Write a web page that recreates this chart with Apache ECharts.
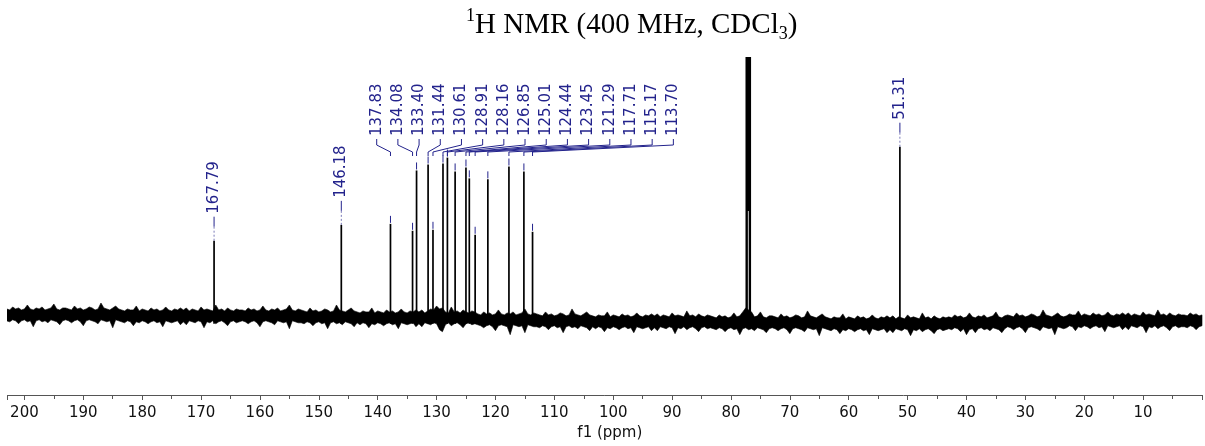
<!DOCTYPE html>
<html>
<head>
<meta charset="utf-8">
<title>NMR spectrum</title>
<script src="https://cdn.jsdelivr.net/npm/echarts@6/dist/echarts.min.js"></script>
<style>
  html, body { margin: 0; padding: 0; background: #fff; }
  #main { width: 1205px; height: 446px; }
</style>
</head>
<body>
<div id="main"></div>
<script>
// picked peaks (ppm) and their heights (arbitrary intensity, baseline sits near 75)
const peakPpm = [167.79, 146.18, 137.83, 134.08, 133.40, 131.44, 130.61, 128.91, 128.16,
  126.85, 125.01, 124.44, 123.45, 121.29, 117.71, 115.17, 113.70, 51.31];
const peakHeight = [156, 172, 173, 166, 227, 233, 167, 234, 240,
  226, 230, 219, 162, 218, 231, 226, 165, 251];

// CDCl3 solvent lines, they run off the top of the plot
const solventPpm = [77.33, 76.79];
const solventHeight = [900, 900];
const solventValley = 186; // where the two lines merge

// noise envelope, one pair every 0.5 ppm from 203 down to 0
const noiseUpper = [
  87, 86, 89, 87, 88, 86, 87, 91, 87, 86, 88, 87, 89, 86, 87, 88, 92, 87, 86, 88,
  88, 87, 86, 90, 87, 88, 86, 87, 89, 88, 86, 87, 93, 88, 87, 86, 88, 90, 87, 86,
  85, 87, 86, 86, 90, 85, 87, 86, 85, 88, 86, 87, 85, 86, 89, 86, 85, 87, 86, 88,
  86, 88, 85, 87, 86, 85, 89, 86, 87, 86, 85, 91, 86, 87, 85, 88, 86, 85, 87, 86,
  86, 85, 88, 86, 87, 85, 86, 90, 86, 85, 87, 86, 88, 85, 86, 87, 91, 86, 85, 87,
  86, 85, 84, 88, 85, 86, 84, 85, 87, 86, 84, 85, 91, 86, 85, 84, 86, 88, 85, 84,
  83, 85, 84, 84, 88, 83, 85, 84, 83, 86, 84, 85, 83, 84, 87, 84, 83, 85, 84, 86,
  84, 86, 83, 85, 87, 86, 90, 87, 88, 84, 83, 89, 84, 85, 83, 86, 84, 83, 85, 84,
  82, 81, 84, 82, 83, 81, 82, 86, 82, 81, 83, 82, 84, 81, 82, 83, 87, 82, 81, 83,
  82, 81, 80, 84, 81, 82, 80, 81, 83, 82, 80, 81, 87, 82, 81, 80, 82, 84, 81, 80,
  79, 81, 80, 80, 84, 79, 81, 80, 79, 82, 80, 81, 79, 80, 83, 80, 79, 81, 80, 82,
  80, 82, 79, 81, 80, 79, 83, 80, 81, 80, 79, 85, 80, 81, 79, 82, 80, 79, 81, 80,
  79, 78, 81, 79, 80, 78, 79, 83, 79, 80, 84, 88, 86, 84, 79, 80, 84, 79, 78, 80,
  80, 79, 78, 82, 79, 80, 78, 79, 81, 80, 78, 79, 85, 80, 79, 78, 80, 82, 79, 78,
  77, 79, 78, 78, 82, 77, 79, 78, 77, 80, 78, 79, 77, 78, 81, 78, 77, 79, 78, 80,
  78, 80, 77, 79, 78, 77, 81, 78, 79, 78, 77, 83, 78, 79, 77, 80, 78, 77, 79, 78,
  79, 78, 81, 79, 80, 78, 79, 83, 79, 78, 80, 79, 81, 78, 79, 80, 84, 79, 78, 80,
  81, 80, 79, 83, 80, 81, 79, 80, 82, 81, 79, 80, 86, 81, 80, 79, 81, 83, 80, 79,
  80, 82, 81, 81, 85, 80, 82, 81, 80, 83, 81, 82, 80, 81, 84, 81, 80, 82, 81, 83,
  81, 83, 80, 82, 81, 80, 84, 81, 82, 81, 80, 86, 81, 82, 80, 83, 81, 80, 82, 81,
  81, 80, 83, 81, 82, 80, 81
];
const noiseLower = [
  75, 74, 76, 75, 72, 75, 76, 74, 75, 69, 75, 76, 74, 75, 73, 76, 75, 74, 71, 75,
  76, 75, 73, 75, 76, 74, 70, 75, 76, 75, 74, 72, 76, 75, 74, 75, 68, 76, 75, 74,
  73, 75, 74, 70, 74, 73, 75, 74, 72, 74, 75, 73, 74, 69, 75, 74, 73, 74, 75, 71,
  74, 71, 75, 74, 73, 75, 74, 68, 74, 73, 75, 72, 74, 75, 73, 70, 74, 75, 73, 74,
  75, 74, 72, 74, 75, 73, 69, 74, 75, 74, 73, 71, 75, 74, 73, 74, 67, 75, 74, 73,
  73, 72, 74, 73, 70, 73, 74, 72, 73, 67, 73, 74, 72, 73, 71, 74, 73, 72, 69, 73,
  71, 73, 72, 68, 72, 71, 73, 72, 70, 72, 73, 71, 72, 67, 73, 72, 71, 72, 73, 69,
  72, 69, 73, 72, 71, 73, 72, 66, 64, 71, 73, 70, 72, 73, 71, 68, 72, 73, 71, 72,
  71, 70, 68, 70, 71, 69, 65, 70, 71, 70, 69, 61, 71, 70, 69, 70, 63, 71, 70, 69,
  69, 68, 70, 69, 66, 69, 70, 68, 69, 63, 69, 70, 68, 69, 67, 70, 69, 68, 65, 69,
  67, 69, 68, 64, 68, 67, 69, 68, 66, 68, 69, 67, 68, 63, 69, 68, 67, 68, 69, 65,
  68, 65, 69, 68, 67, 69, 68, 62, 68, 67, 69, 66, 68, 69, 67, 64, 68, 69, 67, 68,
  67, 66, 68, 67, 64, 67, 68, 66, 67, 61, 67, 68, 66, 67, 65, 68, 67, 66, 63, 67,
  68, 67, 65, 67, 68, 66, 62, 67, 68, 67, 66, 64, 68, 67, 66, 67, 60, 68, 67, 66,
  65, 67, 66, 62, 66, 65, 67, 66, 64, 66, 67, 65, 66, 61, 67, 66, 65, 66, 67, 63,
  66, 63, 67, 66, 65, 67, 66, 60, 66, 65, 67, 64, 66, 67, 65, 62, 66, 67, 65, 66,
  67, 66, 68, 67, 64, 67, 61, 66, 67, 63, 67, 68, 66, 67, 65, 68, 67, 66, 63, 67,
  69, 68, 66, 68, 69, 67, 63, 68, 69, 68, 67, 65, 69, 68, 67, 68, 61, 69, 68, 67,
  68, 70, 69, 65, 69, 68, 70, 69, 67, 69, 70, 68, 69, 64, 70, 69, 68, 69, 70, 66,
  69, 66, 70, 69, 68, 70, 69, 63, 69, 68, 70, 67, 69, 70, 68, 65, 69, 70, 68, 69,
  69, 68, 70, 69, 66, 69, 70
];

const LABEL_BLUE = '#23238c';
const FONT = 'DejaVu Sans';

const chart = echarts.init(document.getElementById('main'));

const noiseData = noiseUpper.map((u, i) => [203 - i * 0.5, u, noiseLower[i]]);
const peakData = peakPpm.map((p, i) => [p, peakHeight[i]]);
const solventData = solventPpm.map((p, i) => [p, solventHeight[i]]);

// the crowded aromatic peaks get labels spread out side by side
let slot = 0;
const labelData = peakPpm.map((p, i) => {
  const inGroup = p > 113 && p < 138;
  return [p, peakHeight[i], inGroup ? slot++ : -1];
});

function renderNoise(params, api) {
  if (params.dataIndexInside !== 0) return null;
  const n = noiseData.length;
  const pts = [];
  for (let j = 0; j < n; j++) pts.push(api.coord([api.value(0, j), api.value(1, j)]));
  for (let j = n - 1; j >= 0; j--) pts.push(api.coord([api.value(0, j), api.value(2, j)]));
  return {
    type: 'polygon',
    shape: { points: pts },
    style: { fill: '#000', stroke: '#000', lineWidth: 0.6 }
  };
}

function renderPeak(params, api) {
  const p = api.value(0);
  const a = api.coord([p, 72]);
  const b = api.coord([p, api.value(1)]);
  return {
    type: 'line',
    shape: { x1: a[0], y1: a[1], x2: b[0], y2: b[1] },
    style: { stroke: '#000', lineWidth: 1.7 }
  };
}

function renderSolvent(params, api) {
  const p = api.value(0);
  const a = api.coord([p, 74]);
  const b = api.coord([p, api.value(1)]);
  const children = [{
    type: 'line',
    shape: { x1: a[0], y1: a[1], x2: b[0], y2: b[1] },
    style: { stroke: '#000', lineWidth: 2.4 }
  }];
  if (params.dataIndexInside === 0) {
    // fill between the two lines above the valley
    const l = api.coord([solventPpm[0], solventValley]);
    const r = api.coord([solventPpm[1], solventHeight[1]]);
    children.push({
      type: 'rect',
      shape: { x: l[0], y: r[1], width: r[0] - l[0], height: l[1] - r[1] },
      style: { fill: '#000' }
    });
  }
  return { type: 'group', children };
}

function renderLabel(params, api) {
  const p = api.value(0);
  const s = api.value(2);
  const top = api.coord([p, api.value(1)]);
  const px = top[0];
  const txt = p.toFixed(2);
  const lineStyle = { stroke: LABEL_BLUE, lineWidth: 1, fill: null };
  if (s < 0) {
    return {
      type: 'group',
      children: [
        {
          type: 'text', x: px, y: top[1] - 27, rotation: Math.PI / 2,
          style: { text: txt, fill: LABEL_BLUE, font: '15px ' + FONT, align: 'left', verticalAlign: 'middle' }
        },
        { type: 'line', shape: { x1: px, y1: top[1] - 24, x2: px, y2: top[1] - 14 }, style: lineStyle },
        { type: 'line', shape: { x1: px, y1: top[1] - 14, x2: px, y2: top[1] },
          style: { stroke: '#7a7ab8', lineWidth: 1, lineDash: [2, 2] } }
      ]
    };
  }
  const lx = 376.7 + s * 21.19;
  return {
    type: 'group',
    children: [
      {
        type: 'text', x: lx, y: 136, rotation: Math.PI / 2,
        style: { text: txt, fill: LABEL_BLUE, font: '15px ' + FONT, align: 'left', verticalAlign: 'middle' }
      },
      { type: 'polyline', shape: { points: [[lx, 139], [lx, 145], [px, 152], [px, 156]] }, style: lineStyle },
      { type: 'line', shape: { x1: px, y1: top[1] - 8, x2: px, y2: top[1] - 1 }, style: lineStyle }
    ]
  };
}

const titleFont = { fontFamily: 'Liberation Serif', fontWeight: 'normal', color: '#000' };

const option = {
  animation: false,
  title: {
    text: '{sup|1}{m|H NMR (400 MHz, CDCl}{sub|3}{m|)}',
    left: 466,
    top: 7,
    padding: 0,
    textStyle: {
      fontWeight: 'normal',
      rich: {
        m: Object.assign({ fontSize: 29, lineHeight: 36 }, titleFont),
        sup: Object.assign({ fontSize: 18, lineHeight: 26, verticalAlign: 'top' }, titleFont),
        sub: Object.assign({ fontSize: 18, lineHeight: 18, verticalAlign: 'bottom' }, titleFont)
      }
    }
  },
  grid: { left: 7.7, right: -3.5, top: 57, bottom: 47.3 },
  xAxis: {
    type: 'value',
    inverse: true,
    min: 0,
    max: 202.84,
    interval: 10,
    axisLine: { lineStyle: { color: '#555', width: 1 } },
    axisTick: { length: 5, lineStyle: { color: '#555' } },
    minorTick: { show: true, splitNumber: 2, length: 4, lineStyle: { color: '#555' } },
    splitLine: { show: false },
    axisLabel: {
      margin: 11,
      fontFamily: FONT,
      fontSize: 15,
      color: '#111',
      showMaxLabel: false,
      formatter: v => (v === 0 ? '' : String(v))
    },
    name: 'f1 (ppm)',
    nameLocation: 'middle',
    nameGap: 31,
    nameTextStyle: { fontFamily: FONT, fontSize: 15, color: '#111', padding: [0, 0, 0, 10] }
  },
  yAxis: { type: 'value', min: 0, max: 341.7, show: false },
  series: [
    { type: 'custom', data: noiseData, renderItem: renderNoise, clip: true, silent: true },
    { type: 'custom', data: peakData, renderItem: renderPeak, clip: true, silent: true },
    { type: 'custom', data: solventData, renderItem: renderSolvent, clip: true, silent: true },
    { type: 'custom', data: labelData, renderItem: renderLabel, clip: false, silent: true }
  ]
};

chart.setOption(option);
</script>
</body>
</html>
